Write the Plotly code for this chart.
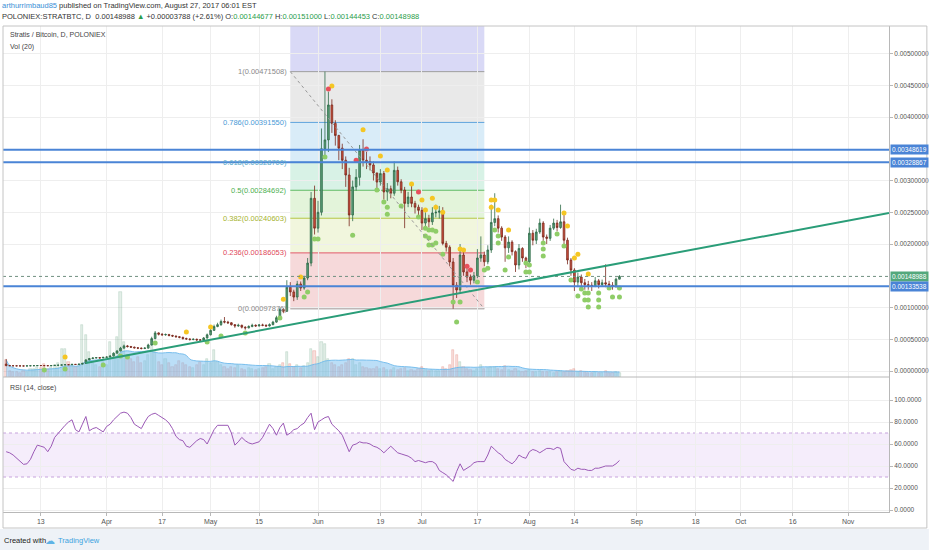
import numpy as np
import pandas as pd
import plotly.graph_objects as go

# ---------------- data (prices in satoshi, 1e-8 BTC) ----------------
start_date = "2017-03-03"
first_open_sat = 11000
close_sat = [
    8500, 8300, 8200, 8100, 8000, 7900, 8100, 8300, 8400, 8600,
    8500, 8400, 8300, 8600, 8900, 9200, 9600, 10000, 9900, 10500,
    10300, 10800, 12000, 17500, 19500, 20500, 21000, 20500, 21500, 22000,
    23500, 28000, 31500, 36000, 39500, 38500, 37500, 36500, 36000, 35500,
    36000, 41000, 51000, 60000, 58000, 57000, 57500, 56000, 55000, 54000,
    53000, 51000, 50500, 49500, 50000, 49000, 48800, 52000, 57000, 64000,
    70000, 73000, 78000, 77000, 76000, 73000, 71000, 72000, 69000, 68000,
    70000, 72000, 71000, 72500, 72000, 71000, 73000, 77000, 84000, 97000,
    94000, 132000, 124500, 116500, 137000, 130700, 146500, 170000, 272000, 225000,
    250000, 350000, 364000, 419000, 390000, 371000, 351000, 332000, 308700, 245700,
    290000, 305000, 348000, 332000, 330000, 324500, 312000, 297600, 311000, 282000,
    287000, 280000, 316000, 298000, 285000, 264000, 274000, 264000, 258000, 253000,
    233000, 240000, 235000, 249000, 250000, 252000, 201000, 195000, 171700, 135000,
    127600, 182700, 156000, 148000, 143000, 150000, 178000, 182700, 172000, 190600,
    234000, 240000, 225000, 211000, 194000, 203000, 188000, 167000, 193000, 178000,
    172000, 217000, 206000, 219000, 233000, 211000, 209000, 225000, 233000, 226000,
    235000, 206000, 174800, 159000, 140000, 148000, 139000, 136000, 135000, 134000,
    142000, 136000, 139000, 137000, 135000, 133000, 144677, 148988,
]
high_sat = [
    19000, 9000, 8800, 8700, 8600, 8500, 8600, 8800, 8900, 9100,
    9100, 9000, 8900, 9100, 9400, 9700, 10200, 10600, 10500, 11000,
    11000, 11300, 12800, 18500, 20500, 21500, 22000, 21600, 22200, 23000,
    24500, 29500, 33000, 38000, 41500, 41000, 39500, 38500, 37500, 37000,
    37500, 43000, 54000, 63000, 61000, 59500, 59000, 58500, 57000, 56000,
    55000, 54000, 52500, 51500, 51500, 51000, 50000, 53500, 59000, 66500,
    73000, 76000, 81000, 85000, 79000, 77000, 74000, 74500, 73000, 70500,
    72000, 74500, 73500, 74000, 74500, 73500, 75000, 79000, 87000, 100000,
    99000, 143000, 140000, 128000, 142000, 141000, 150000, 178000, 282000, 292000,
    268000, 382000, 471508, 440000, 428000, 395000, 372000, 358000, 338000, 320000,
    300000, 318000, 356000, 365000, 345000, 338000, 330000, 305000, 318000, 315000,
    296000, 292000, 330000, 322000, 302000, 290000, 282000, 292000, 268000, 262000,
    258000, 250000, 246000, 258000, 262000, 260000, 258000, 205000, 198000, 178000,
    140000, 200000, 188000, 162000, 152000, 156000, 192000, 212000, 188000, 198000,
    262000, 280000, 245000, 228000, 214000, 212000, 206000, 190000, 200000, 195000,
    180000, 226000, 222000, 224000, 240000, 236000, 215000, 230000, 240000, 238000,
    262000, 250000, 210000, 178000, 162000, 155000, 152000, 145000, 142000, 140000,
    148000, 145000, 144000, 168000, 142000, 140000, 147000, 151000,
]
low_sat = [
    7500, 7800, 7700, 7600, 7500, 7400, 7500, 7700, 7800, 8000,
    8000, 7900, 7800, 8000, 8300, 8600, 8900, 9300, 9300, 9600,
    9700, 10000, 10500, 11500, 17000, 19000, 20000, 19800, 20200, 21000,
    21500, 23000, 27500, 31000, 35500, 37000, 36500, 35500, 34500, 34000,
    34500, 35500, 40000, 50000, 56000, 55500, 55500, 54500, 53500, 52500,
    51500, 49500, 49000, 48000, 48500, 47500, 47000, 48000, 51000, 56000,
    63000, 69000, 71000, 75000, 74000, 71500, 68000, 69500, 67000, 65000,
    67000, 69000, 69500, 70000, 70500, 69500, 70000, 72000, 76000, 83000,
    91000, 93000, 118000, 110000, 112000, 126000, 128000, 143000, 165000, 215000,
    218000, 245000, 340000, 345000, 375000, 355000, 332000, 318000, 290000, 228000,
    236000, 284000, 292000, 322000, 318000, 316000, 300000, 284000, 292000, 270000,
    268000, 272000, 276000, 292000, 280000, 225000, 258000, 258000, 248000, 244000,
    222000, 226000, 226000, 230000, 242000, 240000, 198000, 188000, 165000, 98000,
    115000, 122000, 150000, 140000, 136000, 138000, 146000, 172000, 165000, 168000,
    186000, 228000, 218000, 205000, 172000, 186000, 182000, 156000, 160000, 172000,
    162000, 166000, 198000, 200000, 216000, 205000, 200000, 205000, 222000, 220000,
    224000, 200000, 168000, 150000, 126000, 132000, 130000, 128000, 128000, 126000,
    132000, 130000, 133000, 132000, 130000, 128000, 131000, 144453,
]
volume = [
    17, 6, 5, 5, 4, 6, 5, 8, 8, 10, 9, 13, 8, 10, 12, 14, 28, 28, 15, 12,
    10, 12, 52, 42, 25, 14, 12, 10, 15, 12, 35, 20, 40, 85, 35, 22, 18, 15, 20, 14,
    16, 22, 37, 25, 15, 12, 18, 14, 10, 12, 16, 14, 12, 10, 9, 12, 15, 12, 18, 14,
    27, 15, 12, 10, 8, 10, 9, 12, 8, 7, 9, 8, 7, 8, 9, 10, 13, 8, 10, 12,
    14, 25, 13, 10, 12, 9, 11, 14, 28, 26, 20, 35, 33, 18, 14, 12, 10, 12, 14, 18,
    18, 12, 14, 10, 9, 8, 8, 10, 8, 9, 7, 7, 9, 7, 8, 9, 6, 7, 6, 8,
    10, 7, 6, 7, 6, 6, 10, 8, 12, 27, 22, 15, 10, 8, 7, 6, 8, 12, 8, 9,
    10, 10, 8, 7, 11, 7, 6, 8, 6, 5, 6, 7, 5, 5, 6, 5, 5, 5, 4, 5,
    6, 5, 6, 7, 8, 5, 6, 5, 4, 4, 5, 4, 4, 6, 4, 4, 5, 4,
]
rsi = [
    53, 52, 50, 47, 44, 41.5, 42, 46, 53, 59, 58, 57, 53, 58, 66, 70, 74, 77, 80, 82,
    73, 71, 78, 85, 72, 74, 75, 73, 71, 76, 78, 82, 85, 88, 89, 88, 84, 78, 76, 74,
    80, 85, 87, 88, 86, 84, 82, 79, 74, 67, 64, 63, 58, 57, 60, 63, 65, 64, 60, 66,
    73, 77, 77, 77, 77, 70, 59, 62, 66, 63, 61, 60, 61, 62, 66, 72, 78, 74, 68, 75,
    79, 68, 70, 73, 74, 77, 79, 84, 88, 73, 80, 82, 84, 85, 78, 75, 72, 68, 61, 53,
    59, 60, 62, 61, 61, 60, 58, 57, 55, 52, 55, 58, 55, 52, 51, 50, 49, 47, 44, 45,
    44, 43, 44, 44, 42, 36, 34, 32, 29, 26, 35, 42, 36, 38, 40, 43, 44, 44, 44, 50,
    58, 55, 52, 50, 46, 44, 42, 45, 50, 48, 47, 53, 55, 54, 52, 54, 56, 56, 55, 57,
    56, 44, 40, 37, 36, 38, 37, 37, 36, 36, 38, 38, 39, 40, 40, 40, 42, 45,
]

# indicator dots: day offset from start_date, price in satoshi
yellow_day = [17, 52, 59, 80, 85, 94, 103, 108, 110, 117, 120, 121, 123, 124, 126, 131, 132,
              140, 141, 140, 142, 145, 161, 162, 164, 165, 168]
yellow_sat = [22000, 61400, 69300, 113000, 148000, 449000, 380000, 338600, 316600, 294500,
              269300, 253600, 272000, 258000, 250000, 192000, 190600, 269300, 269300, 258000,
              253600, 222000, 248800, 228400, 178000, 184000, 152800]
red_day = [93, 101, 104, 119, 133, 134]
red_sat = [444000, 332000, 349600, 282000, 165000, 159000]
green_day = [11, 17, 28, 33, 35, 43, 58, 62, 69, 79, 86, 87, 89, 90, 92, 100, 107, 109, 110, 110,
             114, 119, 121, 122, 123, 124, 121, 122, 124, 122, 123, 126, 129, 131, 130, 136, 138,
             139, 141, 142, 142, 144, 145, 150, 151, 150, 151, 155, 155, 155, 159, 161, 163, 165,
             166, 167, 168, 167, 168, 168, 171, 171, 171, 174, 175, 177, 177]
green_sat = [1600, 3000, 9500, 23600, 22000, 44100, 45700, 55000, 59850, 83500, 116500, 124500,
             208000, 208000, 337000, 214000, 285000, 266000, 258000, 247000, 260000, 242500,
             225000, 222000, 222000, 220000, 212600, 209500, 201600, 198500, 198500, 184000,
             108700, 108700, 77000, 140000, 159000, 162000, 222000, 212600, 201600, 159000,
             179500, 170000, 167000, 156000, 156000, 201600, 192000, 181000, 215800, 197000,
             143300, 118000, 129000, 123000, 123000, 112000, 112000, 101000, 123000, 112000,
             101000, 130700, 116500, 130700, 116500]

fib_ratio = [1, 0.786, 0.618, 0.5, 0.382, 0.236, 0]
fib_price = [0.00471508, 0.00391550, 0.00328700, 0.00284692, 0.00240603, 0.00186053, 0.00097876]
fib_line_color = ["#9e9e9e", "#5ea3dc", "#5ab0c6", "#5dbb63", "#b5c544", "#e2596b", "#9e9e9e"]
fib_text_color = ["#8a8a8a", "#4a9ad6", "#57a9c8", "#4caf50", "#a6b32e", "#e0485a", "#8a8a8a"]
fib_zone_color = ["#d9d9f6", "#e9e9e9", "#d9ecf8", "#d8f2e6", "#e3f4da", "#f1f6dd", "#f6d9da"]
fib_start, fib_end = "2017-05-24", "2017-07-19"

blue_levels = [0.00348619, 0.00328867, 0.00133538]
last_price = 0.00148988
trend_x = ["2017-03-26", "2017-11-12 19:00"]
trend_y = [0.000126, 0.00249]

tick_dates = ["2017-03-13", "2017-04-01", "2017-04-17", "2017-05-01", "2017-05-15", "2017-06-01",
              "2017-06-19", "2017-07-01", "2017-07-17", "2017-08-01", "2017-08-14", "2017-09-01",
              "2017-09-18", "2017-10-01", "2017-10-16", "2017-11-01"]
tick_text = ["13", "Apr", "17", "May", "15", "Jun", "19", "Jul", "17", "Aug", "14", "Sep",
             "18", "Oct", "16", "Nov"]
# price ticks shown on the right axis (0.0015 and 0.0035 are covered by the level labels)
price_ticks = [0.0, 0.0005, 0.0010, 0.0020, 0.0025, 0.0030, 0.0040, 0.0045, 0.0050]
rsi_ticks = [0, 20, 40, 60, 80, 100]
x_range = ["2017-03-02 02:00", "2017-11-12 19:00"]
price_range = [-0.0000945, 0.005434]
rsi_range = [-1.8, 120.9]

# ---------------- derived ----------------
dates = pd.date_range(start_date, periods=len(close_sat), freq="D")
close = np.array(close_sat) / 1e8
high = np.array(high_sat) / 1e8
low = np.array(low_sat) / 1e8
open_ = np.concatenate([[first_open_sat / 1e8], close[:-1]])
up = close >= open_
vol_ma = pd.Series(volume).rolling(20, min_periods=1).mean()
d0 = pd.Timestamp(start_date)
to_date = lambda days: [d0 + pd.Timedelta(days=int(v)) for v in days]

FONT = "Liberation Sans, Arial, sans-serif"
H_TOP, H_BOT = 26, 512
PH = H_BOT - H_TOP
def py(px):
    return (H_BOT - px) / PH
split = py(377)

fig = go.Figure()

fig.add_trace(go.Bar(
    x=dates, y=volume, yaxis="y", xaxis="x",
    width=0.62 * 86400000,
    marker=dict(color=["rgba(107,165,131,0.18)" if u else "rgba(215,84,66,0.18)" for u in up],
                line=dict(color=["rgba(107,165,131,0.4)" if u else "rgba(215,84,66,0.4)" for u in up], width=0.6)),
    hoverinfo="skip"))
fig.add_trace(go.Scatter(
    x=dates, y=vol_ma, yaxis="y", xaxis="x", mode="lines",
    line=dict(color="rgba(110,185,235,0.9)", width=1, shape="spline"),
    fill="tozeroy", fillcolor="rgba(120,190,240,0.5)", hoverinfo="skip"))

fig.add_trace(go.Candlestick(
    x=dates, open=open_, high=high, low=low, close=close, xaxis="x", yaxis="y2",
    increasing=dict(line=dict(color="#2f6b48", width=0.8), fillcolor="#5a9e78"),
    decreasing=dict(line=dict(color="#7a2a1e", width=0.8), fillcolor="#d0503c"),
    whiskerwidth=0, hoverinfo="skip"))

for dd, pp, col in [(yellow_day, yellow_sat, "#f5c623"), (red_day, red_sat, "#e8505b"),
                    (green_day, green_sat, "#8fcd68")]:
    fig.add_trace(go.Scatter(x=to_date(dd), y=np.array(pp) / 1e8, xaxis="x", yaxis="y2",
                             mode="markers", marker=dict(color=col, size=5, line=dict(width=0)),
                             hoverinfo="skip"))

fig.add_trace(go.Scatter(x=dates, y=rsi, xaxis="x", yaxis="y3", mode="lines",
                         line=dict(color="#9b59b6", width=1), hoverinfo="skip"))

shapes = []
zone_bounds = [price_range[1]] + fib_price
for i in range(7):
    shapes.append(dict(type="rect", xref="x", yref="y2", x0=fib_start, x1=fib_end,
                       y0=zone_bounds[i + 1], y1=zone_bounds[i], fillcolor=fib_zone_color[i],
                       line=dict(width=0), layer="below"))
for p, c in zip(fib_price, fib_line_color):
    shapes.append(dict(type="line", xref="x", yref="y2", x0=fib_start, x1=fib_end, y0=p, y1=p,
                       line=dict(color=c, width=1), layer="below"))
shapes.append(dict(type="line", xref="x", yref="y2", x0=fib_start, x1=fib_end,
                   y0=fib_price[0], y1=fib_price[-1], line=dict(color="#999", width=1, dash="dot"),
                   layer="above"))
for p in blue_levels:
    shapes.append(dict(type="line", xref="paper", yref="y2", x0=0, x1=1, y0=p, y1=p,
                       line=dict(color="#4a84d6", width=2), layer="above"))
shapes.append(dict(type="line", xref="paper", yref="y2", x0=0, x1=1, y0=last_price, y1=last_price,
                   line=dict(color="#6f8f80", width=1, dash="dot"), layer="above"))
shapes.append(dict(type="line", xref="x", yref="y2", x0=trend_x[0], x1=trend_x[1],
                   y0=trend_y[0], y1=trend_y[1], line=dict(color="#2a9d78", width=2), layer="above"))
shapes.append(dict(type="rect", xref="paper", yref="y3", x0=0, x1=1, y0=30, y1=70,
                   fillcolor="rgba(170,110,220,0.12)", line=dict(width=0), layer="below"))
for v in (30, 70):
    shapes.append(dict(type="line", xref="paper", yref="y3", x0=0, x1=1, y0=v, y1=v,
                       line=dict(color="#c6a3dc", width=1, dash="dot"), layer="below"))
shapes.append(dict(type="line", xref="paper", yref="paper", x0=0, x1=1, y0=split, y1=split,
                   line=dict(color="#b8b8b8", width=1)))
shapes.append(dict(type="rect", xref="paper", yref="paper", x0=-3 / 889, x1=1.045,
                   y0=py(550), y1=py(529), fillcolor="#eef2f7", line=dict(width=0), layer="below"))
shapes.append(dict(type="rect", xref="paper", yref="paper", x0=0, x1=(930 - 3) / 889,
                   y0=py(528), y1=1, line=dict(color="#c4c4c4", width=1), fillcolor="rgba(0,0,0,0)"))

ann = []
for r, p, c in zip(fib_ratio, fib_price, fib_text_color):
    ann.append(dict(xref="x", yref="y2", x=fib_start, y=p, xanchor="right", yanchor="middle",
                    xshift=-1, text=f"{r}({p:.8f})", showarrow=False,
                    font=dict(family=FONT, size=7.5, color=c)))
for p, bg in [(blue_levels[0], "#4a84d6"), (blue_levels[1], "#4a84d6"),
              (last_price, "#53a87c"), (blue_levels[2], "#4a84d6")]:
    ann.append(dict(xref="paper", yref="y2", x=1, y=p, xanchor="left", yanchor="middle",
                    xshift=1, text=f"{p:.8f}", showarrow=False, bgcolor=bg, borderpad=1,
                    font=dict(family=FONT, size=6.5, color="white")))
G = "#2a9d4a"
ann += [
    dict(xref="paper", yref="paper", x=-3 / 889, y=py(6), xanchor="left", yanchor="middle",
         showarrow=False, font=dict(family=FONT, size=7.5, color="#333"),
         text="<span style='color:#3a8fd6'>arthurrimbaud85</span> published on TradingView.com, August 27, 2017 06:01 EST"),
    dict(xref="paper", yref="paper", x=-3 / 889, y=py(17), xanchor="left", yanchor="middle",
         showarrow=False, font=dict(family=FONT, size=7.5, color="#333"),
         text=(f"POLONIEX:STRATBTC, D  0.00148988 <span style='color:{G}'>▲</span> +0.00003788 (+2.61%) "
               f"O:<span style='color:{G}'>0.00144677</span> H:<span style='color:{G}'>0.00151000</span> "
               f"L:<span style='color:{G}'>0.00144453</span> C:<span style='color:{G}'>0.00148988</span>")),
    dict(xref="paper", yref="paper", x=5 / 889, y=py(35), xanchor="left", yanchor="middle",
         showarrow=False, font=dict(family=FONT, size=7, color="#444"), text="Stratis / Bitcoin, D, POLONIEX"),
    dict(xref="paper", yref="paper", x=5 / 889, y=py(47), xanchor="left", yanchor="middle",
         showarrow=False, font=dict(family=FONT, size=7, color="#444"), text="Vol (20)"),
    dict(xref="paper", yref="paper", x=5 / 889, y=py(388), xanchor="left", yanchor="middle",
         showarrow=False, font=dict(family=FONT, size=7, color="#444"), text="RSI (14, close)"),
    dict(xref="paper", yref="paper", x=-1 / 889, y=py(540), xanchor="left", yanchor="middle",
         showarrow=False, font=dict(family=FONT, size=7.5, color="#222"), text="Created with"),
    dict(xref="paper", yref="paper", x=40 / 889, y=py(540), xanchor="left", yanchor="middle",
         showarrow=False, font=dict(family=FONT, size=10, color="#5fb3e6"), text="☁"),
    dict(xref="paper", yref="paper", x=53 / 889, y=py(540), xanchor="left", yanchor="middle",
         showarrow=False, font=dict(family=FONT, size=7.5, color="#3ba3e0"), text="TradingView"),
]

axis_font = dict(family=FONT, size=6.5, color="#555")
fig.update_layout(
    width=932, height=550, margin=dict(l=3, r=40, t=H_TOP, b=550 - H_BOT),
    paper_bgcolor="white", plot_bgcolor="white", showlegend=False, bargap=0,
    xaxis=dict(type="date", domain=[0, 1], anchor="y3", range=x_range, tickvals=tick_dates,
               ticktext=tick_text, showgrid=True, gridcolor="#eeeeee", gridwidth=1,
               showline=True, linecolor="#b8b8b8", ticks="outside", ticklen=3, tickcolor="#b8b8b8",
               tickfont=dict(family=FONT, size=7, color="#555"), rangeslider=dict(visible=False),
               zeroline=False),
    yaxis=dict(domain=[split, 1], anchor="x", range=[0, 351], visible=False, showgrid=False),
    yaxis2=dict(overlaying="y", anchor="x", side="right", range=price_range, tickvals=price_ticks,
                ticktext=[f"{v:.8f}" for v in price_ticks],
                showgrid=True, gridcolor="#eeeeee", showline=True, linecolor="#b8b8b8",
                ticks="outside", ticklen=3, tickcolor="#b8b8b8", tickfont=axis_font, zeroline=False),
    yaxis3=dict(domain=[0, split], anchor="x", side="right", range=rsi_range,
                tickvals=rsi_ticks, ticktext=[f"{v:.4f}" for v in rsi_ticks],
                showgrid=True, gridcolor="#eeeeee", showline=True, linecolor="#b8b8b8",
                ticks="outside", ticklen=3, tickcolor="#b8b8b8", tickfont=axis_font, zeroline=False),
    shapes=shapes, annotations=ann,
)

fig.write_html("out.html", config={"displayModeBar": False},
               post_script="document.body.style.margin='0';document.body.style.overflow='hidden';")
